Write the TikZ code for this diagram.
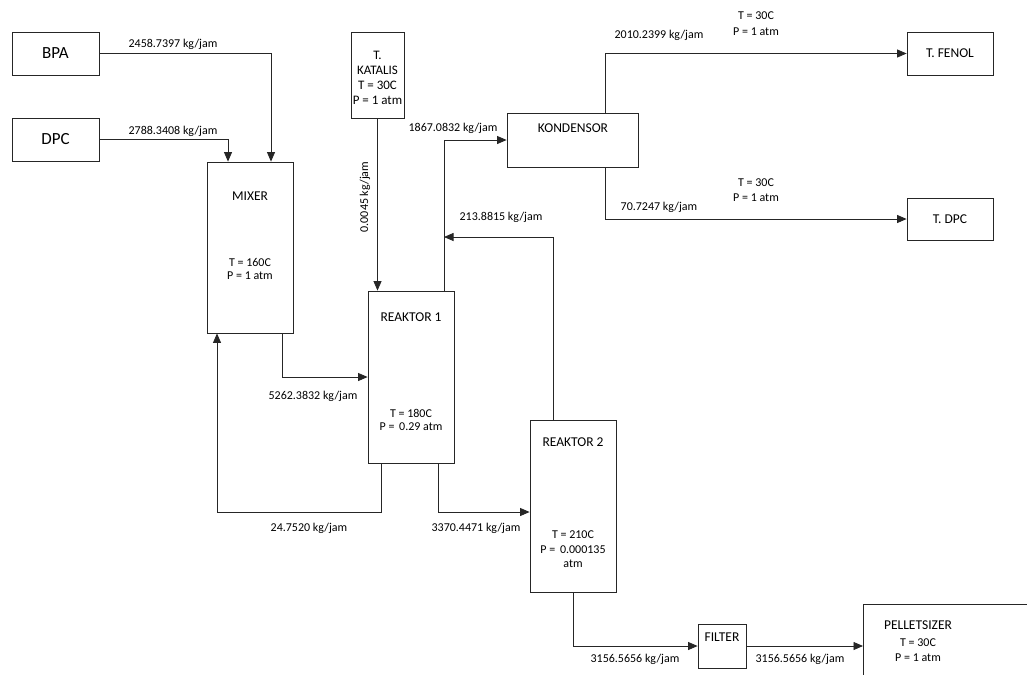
\documentclass[tikz,border=0pt]{standalone}
\usepackage{fontspec}
\setmainfont{Carlito}
\usetikzlibrary{arrows.meta,calc}
\begin{document}
\begin{tikzpicture}[x=1pt,y=-1pt,
  box/.style={draw=black!85, line width=0.8pt, inner sep=0pt},
  conn/.style={draw=black!85, line width=0.8pt},
  arr/.style={conn, -{Triangle[length=9.5pt,width=8pt]}},
  lbl/.style={font=\fontsize{12}{14}\selectfont, inner sep=0pt},
  eq/.style={font=\fontsize{13.5}{15}\selectfont, inner sep=0pt},
  big/.style={font=\fontsize{17}{20}\selectfont},
]
\useasboundingbox (0,0) rectangle (1027,675);

% equipment
\node[box, big, minimum width=87pt, minimum height=43pt] (bpa) at (55.5,53.5) {BPA};
\node[box, big, minimum width=87pt, minimum height=43pt] (dpc) at (55.5,139.5) {DPC};
\node[box, minimum width=86pt, minimum height=171pt] (mixer) at (250,247.5) {};
\node[box, minimum width=53pt, minimum height=86pt] (kat) at (377.5,75) {};
\node[align=center, inner sep=0pt, font=\fontsize{13}{15}\selectfont] (katl) at (377.5,78) {T.\\KATALIS\\T = 30C\\P = 1 atm};
\node[box, minimum width=86pt, minimum height=172pt] (r1) at (411,377) {};
\node[box, minimum width=131pt, minimum height=54pt] (kond) at (572.5,140) {};
\node[box, minimum width=86pt, minimum height=172pt] (r2) at (573,506) {};
\node[box, minimum width=48pt, minimum height=44pt] (filter) at (722,646) {};
\node[box, eq, minimum width=86pt, minimum height=43pt] (fenol) at (950,53.5) {T. FENOL};
\node[box, eq, minimum width=86pt, minimum height=42pt] (tdpc) at (950,219) {T. DPC};
\node[minimum width=164pt, minimum height=71pt, inner sep=0pt, anchor=north west] (pel) at (863,604) {};
\draw[conn] (pel.north east) -- (pel.north west) -- (pel.south west);

% texts inside equipment
\node[eq] (mixl) at (250,196) {MIXER};
\node[lbl] (mixt) at (250,262) {T = 160C};
\node[lbl] (mixp) at (250,276) {P = 1 atm};
\node[eq] (r1l) at (411,317) {REAKTOR 1};
\node[lbl] (r1t) at (411,413) {T = 180C};
\node[lbl] (r1p) at (411,427) {P = \,0.29 atm};
\node[eq] (r2l) at (573,442) {REAKTOR 2};
\node[lbl] (r2t) at (573,535) {T = 210C};
\node[lbl] (r2p) at (573,550) {P = \,0.000135};
\node[lbl] (r2a) at (573,564) {atm};
\node[eq] (kondl) at (573,128) {KONDENSOR};
\node[eq] (filterl) at (722,637) {FILTER};
\node[eq] (pell) at (918,625) {PELLETSIZER};
\node[lbl] (pelt) at (918,643) {T = 30C};
\node[lbl] (pelp) at (918,658) {P = 1 atm};

% connectors
\draw[arr] (bpa.east) -| ([xshift=21pt]mixer.north);
\draw[arr] (dpc.east) -| ([xshift=-22pt]mixer.north);
\draw[arr] (kat.south) -- (kat.south |- r1.north);
\draw[arr] ([xshift=32pt]mixer.south) |- (r1.west);
\draw[arr] ([xshift=-30pt]r1.south) -- ++(0,49) -| ([xshift=-33pt]mixer.south);
\draw[arr] ([xshift=27pt]r1.south) |- ([yshift=-6pt]r2.west);
\path ([xshift=33pt]r1.north) coordinate (r1top);
\coordinate (j) at (r1top |- 0,237);
\draw[arr] (r1top) |- (kond.west);
\draw[arr] ([xshift=-20pt]r2.north) |- (j);
\draw[arr] ([xshift=32.5pt]kond.north) |- (fenol.west);
\draw[arr] ([xshift=32.5pt]kond.south) |- (tdpc.west);
\draw[arr] (r2.south) |- (filter.west);
\draw[arr] (filter.east) -- (filter.east -| pel.west);

% stream labels
\node[lbl] (s1) at (173,44) {2458.7397 kg/jam};
\node[lbl] (s2) at (173,131) {2788.3408 kg/jam};
\node[lbl, rotate=90] (s3) at (365,197) {0.0045 kg/jam};
\node[lbl] (s4) at (453,128) {1867.0832 kg/jam};
\node[lbl] (s5) at (501,217) {213.8815 kg/jam};
\node[lbl] (s6) at (313,396) {5262.3832 kg/jam};
\node[lbl] (s7) at (309,528) {24.7520 kg/jam};
\node[lbl] (s8) at (476,528) {3370.4471 kg/jam};
\node[lbl] (s9) at (635,659) {3156.5656 kg/jam};
\node[lbl] (s10) at (800,659) {3156.5656 kg/jam};
\node[lbl] (s11) at (659,35) {2010.2399 kg/jam};
\node[lbl] (s12) at (659,207) {70.7247 kg/jam};
\node[lbl] (c1t) at (756,16) {T = 30C};
\node[lbl] (c1p) at (756,32) {P = 1 atm};
\node[lbl] (c2t) at (756,183) {T = 30C};
\node[lbl] (c2p) at (756,198) {P = 1 atm};
\end{tikzpicture}
\end{document}
